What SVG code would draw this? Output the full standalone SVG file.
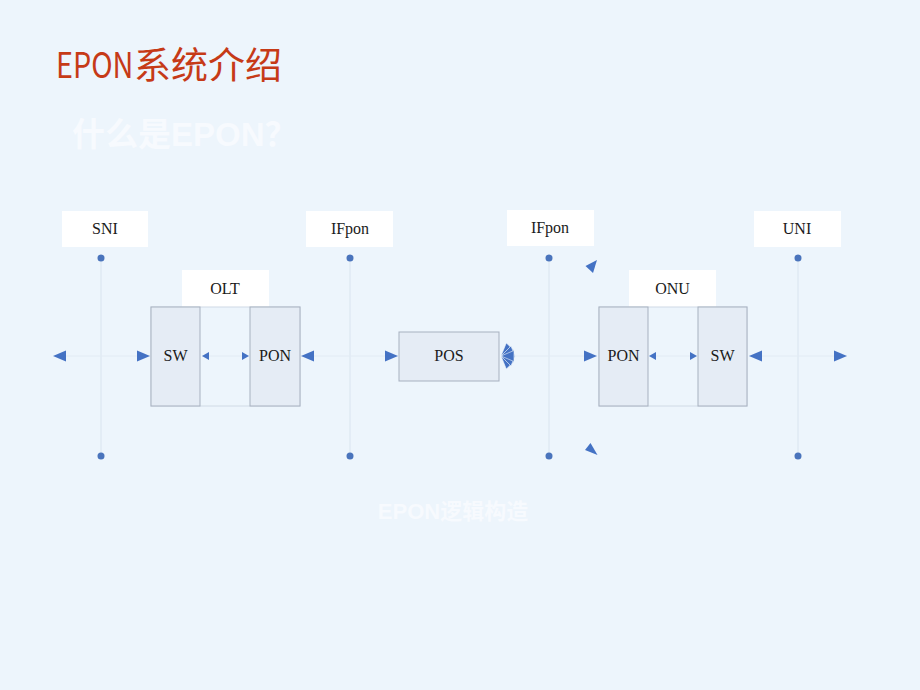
<svg xmlns="http://www.w3.org/2000/svg" width="920" height="690" viewBox="0 0 920 690">
<style>
.lbl{fill:#fff}
.t{font-family:"Liberation Serif","DejaVu Serif",serif;font-size:16px;fill:#1a1a1a;text-anchor:middle}
.blk{fill:#E5ECF5;stroke:#A7B1BF;stroke-width:1}
.vl{stroke:#D9E4EF;stroke-width:1;fill:none}
.hl{stroke:#E2EBF4;stroke-width:1;fill:none}
.dot{fill:#4A74BC}
.ah{fill:#4472C4}
.fan{fill:#4472C4;stroke:#EDF5FC;stroke-width:0.6}
</style>
<defs>
<path id="big" d="M0,0 L13,-5.5 L13,5.5 Z"/>
<path id="sm" d="M0,0 L7,-4 L7,4 Z"/>
</defs>
<rect width="920" height="690" fill="#EDF5FC"/>
<text transform="translate(56,78) scale(0.8,1)" x="0" y="0" font-family="'Noto Sans CJK SC','Noto Sans',sans-serif" font-size="36" fill="#C63A17">EPON</text>
<text x="134" y="79" font-family="'Noto Sans CJK SC',sans-serif" font-size="37" fill="#C63A17">系统介绍</text>
<text x="72" y="146" font-family="'Liberation Sans','Noto Sans CJK SC',sans-serif" font-size="33" font-weight="bold" fill="#F7FAFE">什么是EPON？</text>

<g id="connectors">
<line class="vl" x1="101" y1="258" x2="101" y2="456"/>
<line class="vl" x1="350" y1="258" x2="350" y2="456"/>
<line class="vl" x1="549" y1="258" x2="549" y2="456"/>
<line class="vl" x1="798" y1="258" x2="798" y2="456"/>
<line class="hl" x1="55" y1="356" x2="150" y2="356"/>
<line class="hl" x1="202" y1="356" x2="249" y2="356"/>
<line class="hl" x1="301" y1="356" x2="398" y2="356"/>
<line class="hl" x1="501" y1="356" x2="597" y2="356"/>
<line class="hl" x1="649" y1="356" x2="697" y2="356"/>
<line class="hl" x1="749" y1="356" x2="847" y2="356"/>
<circle class="dot" cx="101" cy="258" r="3.5"/><circle class="dot" cx="101" cy="456" r="3.5"/>
<circle class="dot" cx="350" cy="258" r="3.5"/><circle class="dot" cx="350" cy="456" r="3.5"/>
<circle class="dot" cx="549" cy="258" r="3.5"/><circle class="dot" cx="549" cy="456" r="3.5"/>
<circle class="dot" cx="798" cy="258" r="3.5"/><circle class="dot" cx="798" cy="456" r="3.5"/>
<use href="#big" class="ah" transform="translate(53,356)"/>
<use href="#big" class="ah" transform="translate(150,356) rotate(180)"/>
<use href="#sm" class="ah" transform="translate(202,356)"/>
<use href="#sm" class="ah" transform="translate(249,356) rotate(180)"/>
<use href="#big" class="ah" transform="translate(301,356)"/>
<use href="#big" class="ah" transform="translate(398,356) rotate(180)"/>
<use href="#big" class="fan" transform="translate(501,356) rotate(-45)"/>
<use href="#big" class="fan" transform="translate(501,356) rotate(45)"/>
<use href="#big" class="fan" transform="translate(501,356) rotate(-22)"/>
<use href="#big" class="fan" transform="translate(501,356) rotate(22)"/>
<use href="#big" class="fan" transform="translate(501,356)"/>
<polygon class="ah" points="585.5,266 597,260 593,273"/>
<polygon class="ah" points="585,450 590.5,443 597.5,455"/>
<use href="#big" class="ah" transform="translate(597,356) rotate(180)"/>
<use href="#sm" class="ah" transform="translate(649,356)"/>
<use href="#sm" class="ah" transform="translate(697,356) rotate(180)"/>
<use href="#big" class="ah" transform="translate(749,356)"/>
<use href="#big" class="ah" transform="translate(847,356) rotate(180)"/>
</g>

<g id="sni"><rect class="lbl" x="62" y="211" width="86" height="36"/><text class="t" x="105" y="234">SNI</text></g>
<g id="ifpon1"><rect class="lbl" x="306" y="211" width="87" height="36"/><text class="t" x="350" y="234">IFpon</text></g>
<g id="ifpon2"><rect class="lbl" x="507" y="210" width="87" height="36"/><text class="t" x="550" y="233">IFpon</text></g>
<g id="uni"><rect class="lbl" x="754" y="211" width="87" height="36"/><text class="t" x="797" y="234">UNI</text></g>

<g id="olt">
<rect class="lbl" x="182" y="270" width="87" height="37"/><text class="t" x="225" y="294">OLT</text>
<rect x="151" y="307" width="149" height="99" fill="none" stroke="#D0DAE5"/>
<rect class="blk" x="151" y="307" width="49" height="99"/><text class="t" x="175.5" y="361" font-size="14">SW</text>
<rect class="blk" x="250" y="307" width="50" height="99"/><text class="t" x="275" y="361" font-size="14">PON</text>
</g>

<g id="pos"><rect class="blk" x="399" y="332" width="100" height="49"/><text class="t" x="449" y="361" font-size="14">POS</text></g>

<g id="onu">
<rect class="lbl" x="629" y="270" width="87" height="37"/><text class="t" x="672.5" y="294">ONU</text>
<rect x="599" y="307" width="148" height="99" fill="none" stroke="#D0DAE5"/>
<rect class="blk" x="599" y="307" width="49" height="99"/><text class="t" x="623.5" y="361" font-size="14">PON</text>
<rect class="blk" x="698" y="307" width="49" height="99"/><text class="t" x="722.5" y="361" font-size="14">SW</text>
</g>

<text x="453" y="519" text-anchor="middle" font-family="'Liberation Sans','Noto Sans CJK SC',sans-serif" font-size="22" font-weight="bold" fill="#F7FAFE">EPON逻辑构造</text>
</svg>
